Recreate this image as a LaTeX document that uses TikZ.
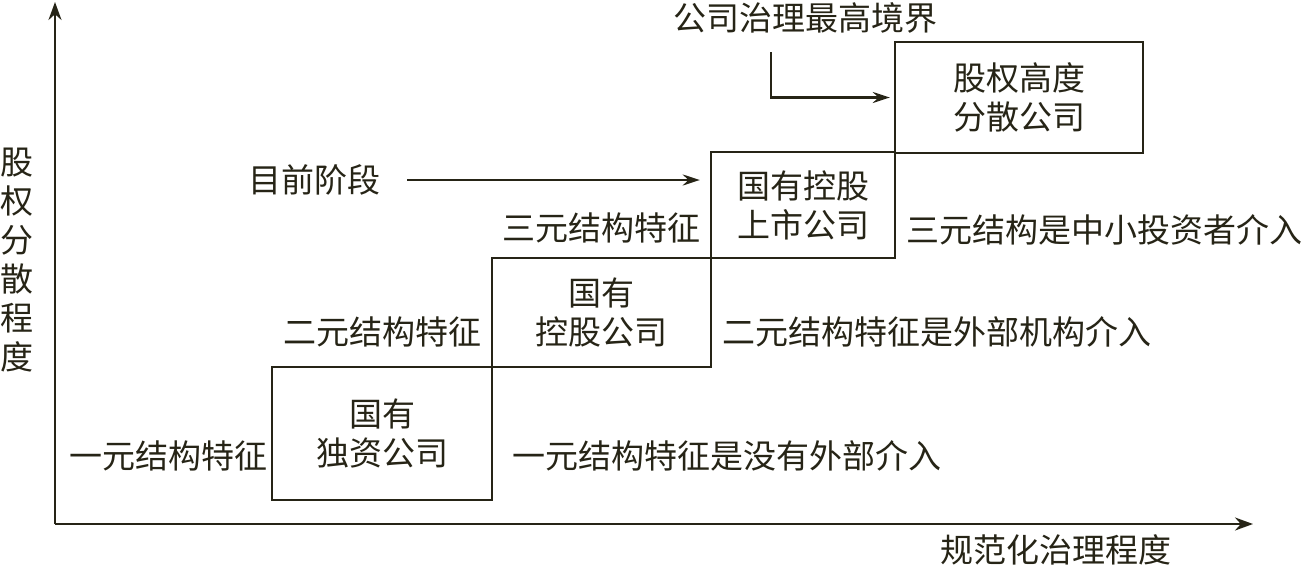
\documentclass[tikz,border=0pt]{standalone}
\usepackage{fontspec}
\setmainfont{Noto Sans CJK SC}
\usetikzlibrary{arrows.meta}
\definecolor{ink}{RGB}{38,36,22}
\tikzset{
  lbl/.style={inner sep=0pt, text=ink, font=\fontsize{33}{40}\selectfont},
  stagebox/.style={draw=ink, line width=2.4pt, align=center, inner sep=0pt, text=ink, font=\fontsize{33}{39}\selectfont},
  axis/.style={draw=ink, line width=2.6pt, -{Stealth[length=18pt,width=13pt]}},
  arr/.style={draw=ink, line width=2.4pt, -{Stealth[length=17pt,width=11pt]}},
}
\begin{document}
\begin{tikzpicture}[x=1pt,y=-1pt]
\useasboundingbox (0,0) rectangle (1304,568);
% axes
\coordinate (O) at (55,524);
\coordinate (ytop) at (55,2);
\coordinate (xend) at (1253,524);
\draw[axis] (O) -- (ytop);
\draw[axis] (O) -- (xend);
\node[lbl, align=center, font=\fontsize{33}{39}\selectfont] (ylab) at (17,260) {股\\权\\分\\散\\程\\度};
\node[lbl] (xlab) at (1056,550) {规范化治理程度};
% boxes
\node[stagebox, minimum width=220pt, minimum height=133pt] (b1) at (382,433.5) {国有\\独资公司};
\node[stagebox, minimum width=219pt, minimum height=109pt] (b2) at (601.5,312.5) {国有\\控股公司};
\node[stagebox, minimum width=184pt, minimum height=106pt] (b3) at (803,205) {国有控股\\上市公司};
\node[stagebox, minimum width=248pt, minimum height=111pt] (b4) at (1019,97.5) {股权高度\\分散公司};
% side labels
\node[lbl] (l1) at (168,456) {一元结构特征};
\node[lbl, anchor=west] (r1) at (512,456) {一元结构特征是没有外部介入};
\node[lbl] (l2) at (382,332) {二元结构特征};
\node[lbl, anchor=west] (r2) at (722,332) {二元结构特征是外部机构介入};
\node[lbl] (l3) at (601,228) {三元结构特征};
\node[lbl, anchor=west] (r3) at (906,230) {三元结构是中小投资者介入};
% current stage
\node[lbl] (now) at (314,180) {目前阶段};
\draw[arr] ([xshift=27pt]now.east) -- ([xshift=-10pt]b3.west |- now.east);
% highest
\node[lbl] (top) at (805,18) {公司治理最高境界};
\coordinate (tstart) at (771,52);
\draw[arr] (tstart) |- ([xshift=-4pt]b4.west);
\end{tikzpicture}
\end{document}
